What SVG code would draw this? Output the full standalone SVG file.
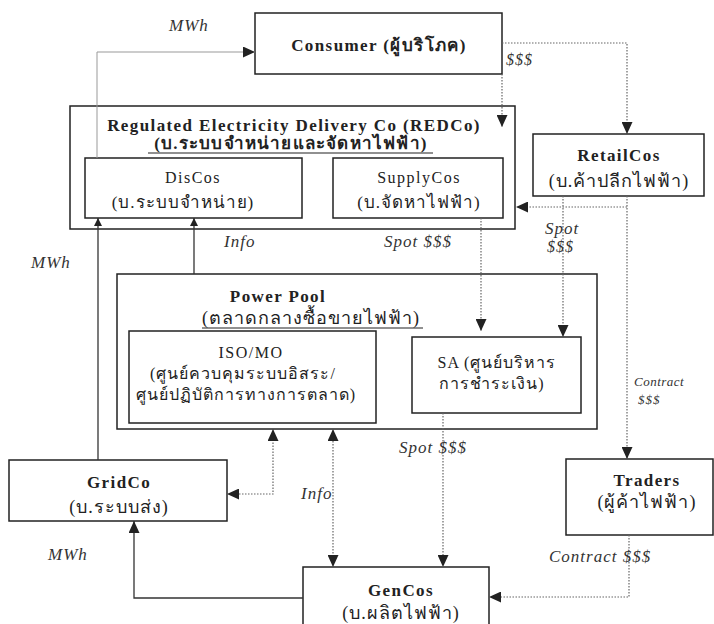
<svg xmlns="http://www.w3.org/2000/svg" width="714" height="624" viewBox="0 0 714 624">
<style>
.box{fill:#fff;stroke:#222;stroke-width:1.5}
.t{font-family:"Liberation Serif","DejaVu Serif",serif;fill:#222;text-anchor:middle}
.b{font-weight:bold;font-size:17px;letter-spacing:1.4px}
.e{font-size:16px;letter-spacing:1.5px}
.th{font-size:17px;letter-spacing:1px}
.lbl{font-family:"Liberation Serif","DejaVu Serif",serif;font-style:italic;fill:#333;font-size:17px;letter-spacing:1px}
.solid{fill:none;stroke:#333;stroke-width:1.3}
.thin{fill:none;stroke:#999;stroke-width:1}
.dot{fill:none;stroke:#666;stroke-width:1.2;stroke-dasharray:1.5 1.5}
</style>
<defs>
<marker id="ah" viewBox="0 0 10 10" refX="10" refY="5" markerWidth="12" markerHeight="11" markerUnits="userSpaceOnUse" orient="auto-start-reverse" preserveAspectRatio="none">
<path d="M0,0 L10,5 L0,10 z" fill="#222"/>
</marker>
<marker id="as" viewBox="0 0 10 10" refX="10" refY="5" markerWidth="8" markerHeight="8" markerUnits="userSpaceOnUse" orient="auto-start-reverse">
<path d="M0,0 L10,5 L0,10 z" fill="#222"/>
</marker>
</defs>

<g id="consumer">
<rect class="box" x="255" y="13" width="247" height="61"/>
<text class="t b" x="379" y="51" font-size="18">Consumer (ผู้บริโภค)</text>
</g>

<g id="redco">
<rect class="box" x="70" y="106" width="445" height="123"/>
<text class="t b" x="294" y="131">Regulated Electricity Delivery Co (REDCo)</text>
<text class="t b" x="291" y="149" style="letter-spacing:1.2px">(บ.ระบบจำหน่ายและจัดหาไฟฟ้า)</text>
<line x1="148" y1="153" x2="433" y2="153" stroke="#222" stroke-width="1.2"/>
</g>

<g id="discos">
<rect class="box" x="85" y="158" width="217" height="60"/>
<text class="t e" x="193" y="183">DisCos</text>
<text class="t th" x="183" y="208">(บ.ระบบจำหน่าย)</text>
</g>

<g id="supplycos">
<rect class="box" x="333" y="158" width="170" height="60"/>
<text class="t e" x="419" y="183">SupplyCos</text>
<text class="t th" x="419" y="208">(บ.จัดหาไฟฟ้า)</text>
</g>

<g id="retailcos">
<rect class="box" x="533" y="134" width="171" height="62"/>
<text class="t b" x="619" y="161">RetailCos</text>
<text class="t th" x="619" y="187" style="font-size:18px">(บ.ค้าปลีกไฟฟ้า)</text>
</g>

<g id="powerpool">
<rect class="box" x="117" y="274" width="480" height="155"/>
<text class="t b" x="278" y="302">Power Pool</text>
<text class="t th" x="311" y="324" style="font-size:18px">(ตลาดกลางซื้อขายไฟฟ้า)</text>
<line x1="202" y1="328" x2="423" y2="328" stroke="#222" stroke-width="1.2"/>
</g>

<g id="isomo">
<rect class="box" x="129" y="331" width="247" height="92"/>
<text class="t e" x="251" y="358">ISO/MO</text>
<text class="t th" x="243" y="379" style="font-size:16px">(ศูนย์ควบคุมระบบอิสระ/</text>
<text class="t th" x="246" y="400" style="font-size:16px">ศูนย์ปฏิบัติการทางการตลาด)</text>
</g>

<g id="sa">
<rect class="box" x="412" y="337" width="169" height="76"/>
<text class="t th" x="497" y="368" style="font-size:16px">SA (ศูนย์บริหาร</text>
<text class="t th" x="492" y="389" style="font-size:16px">การชำระเงิน)</text>
</g>

<g id="gridco">
<rect class="box" x="9" y="460" width="218" height="61"/>
<text class="t b" x="119" y="488">GridCo</text>
<text class="t th" x="119" y="513" style="font-size:18px">(บ.ระบบส่ง)</text>
</g>

<g id="traders">
<rect class="box" x="566" y="459" width="147" height="76"/>
<text class="t b" x="647" y="486">Traders</text>
<text class="t th" x="647" y="508" style="font-size:18px">(ผู้ค้าไฟฟ้า)</text>
</g>

<g id="gencos">
<rect class="box" x="303" y="567" width="186" height="62"/>
<text class="t b" x="401" y="596">GenCos</text>
<text class="t th" x="401" y="619" style="font-size:18px">(บ.ผลิตไฟฟ้า)</text>
</g>

<g id="connectors">
<path class="thin" d="M97,158 V52 H255" marker-end="url(#ah)"/>
<path class="dot" d="M502,43 H627 V134" marker-end="url(#ah)"/>
<path class="dot" d="M502,74 V127" marker-end="url(#ah)"/>
<path class="dot" d="M627,196 V459" marker-end="url(#ah)"/>
<path class="dot" d="M627,207 H516" marker-end="url(#ah)"/>
<path class="dot" d="M563,196 V337" marker-end="url(#ah)"/>
<path class="dot" d="M481,218 V331" marker-end="url(#ah)"/>
<path class="solid" d="M98,460 V218" marker-end="url(#as)"/>
<path class="solid" d="M194,274 V218" marker-end="url(#as)"/>
<path class="dot" d="M443,413 V567" marker-end="url(#ah)"/>
<path class="dot" d="M333,429 V567" marker-start="url(#ah)" marker-end="url(#ah)"/>
<path class="dot" d="M227,494 H273 V429" marker-start="url(#ah)" marker-end="url(#ah)"/>
<path class="solid" d="M303,598 H134 V521" marker-end="url(#ah)"/>
<path class="dot" d="M629,535 V597 H489" marker-end="url(#ah)"/>

<text class="lbl" x="169" y="31">MWh</text>
<text class="lbl" x="506" y="65" style="font-size:16px">$$$</text>
<text class="lbl" x="224" y="247">Info</text>
<text class="lbl" x="384" y="247">Spot $$$</text>
<text class="lbl" x="545" y="234">Spot</text>
<text class="lbl" x="547" y="252" style="font-size:16px">$$$</text>
<text class="lbl" x="31" y="268">MWh</text>
<text class="lbl" x="634" y="386" style="font-size:13px;letter-spacing:0.5px">Contract</text>
<text class="lbl" x="638" y="404" style="font-size:13px">$$$</text>
<text class="lbl" x="399" y="453">Spot $$$</text>
<text class="lbl" x="301" y="499">Info</text>
<text class="lbl" x="48" y="560">MWh</text>
<text class="lbl" x="549" y="562">Contract $$$</text>
</g>
</svg>
